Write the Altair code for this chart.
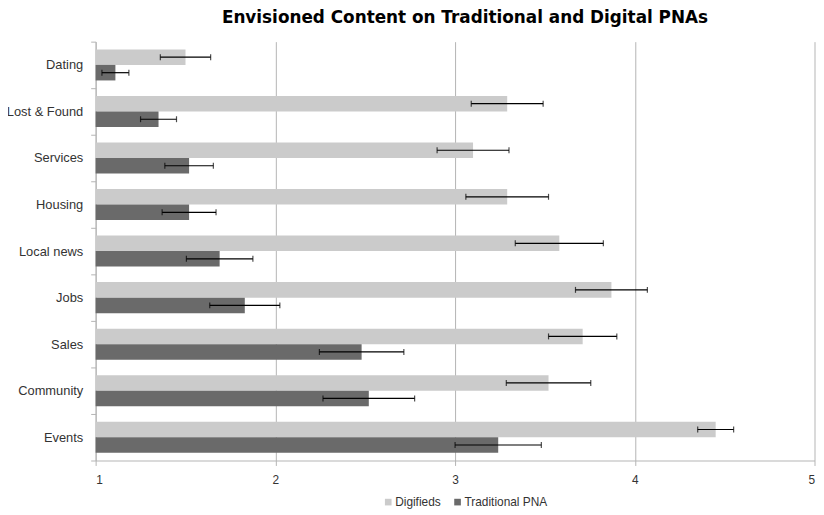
import altair as alt
import pandas as pd

categories = ["Dating", "Lost & Found", "Services", "Housing", "Local news",
              "Jobs", "Sales", "Community", "Events"]
series = ["Digifieds", "Traditional PNA"]
digifieds = [1.50, 3.29, 3.10, 3.29, 3.58, 3.87, 3.71, 3.52, 4.45]
digifieds_err = [0.14, 0.20, 0.20, 0.23, 0.245, 0.20, 0.19, 0.235, 0.10]
traditional = [1.11, 1.35, 1.52, 1.52, 1.69, 1.83, 2.48, 2.52, 3.24]
traditional_err = [0.075, 0.10, 0.135, 0.15, 0.185, 0.195, 0.235, 0.255, 0.24]
x_ticks = [1, 2, 3, 4, 5]
colors = ["#cbcbcb", "#6a6a6a"]

rows = []
for i, c in enumerate(categories):
    rows.append({"category": c, "series": series[0], "value": digifieds[i], "err": digifieds_err[i]})
    rows.append({"category": c, "series": series[1], "value": traditional[i], "err": traditional_err[i]})
df = pd.DataFrame(rows)

FONT = "Liberation Sans"
GRAY = "#b4b4b4"

x_scale = alt.Scale(domain=[1, 5], nice=False, zero=False)
y_enc = alt.Y(
    "category:N", sort=categories,
    scale=alt.Scale(paddingInner=0, paddingOuter=0),
    axis=alt.Axis(title=None, tickBand="extent", tickSize=5, tickColor=GRAY,
                  domainColor=GRAY, labelFontSize=13, labelColor="#333333",
                  labelFont=FONT, labelPadding=8, grid=False),
)
yoff_enc = alt.YOffset("series:N", sort=series,
                       scale=alt.Scale(paddingInner=0, paddingOuter=0.5))

base = alt.Chart(df)

bars = base.mark_bar(strokeWidth=0).encode(
    x=alt.X("value:Q", scale=x_scale,
            axis=alt.Axis(title=None, values=x_ticks, grid=True, gridColor=GRAY,
                          domainColor=GRAY, tickColor=GRAY, tickSize=5,
                          labelFontSize=12, labelColor="#333333", labelFont=FONT,
                          labelPadding=9, format="d")),
    x2=alt.datum(1),
    y=y_enc,
    yOffset=yoff_enc,
    color=alt.Color("series:N", sort=series,
                    scale=alt.Scale(domain=series, range=colors),
                    legend=alt.Legend(title=None, orient="none", direction="horizontal",
                                      legendX=289.5, legendY=459, padding=0,
                                      symbolType="square", symbolSize=45,
                                      symbolStrokeWidth=0, labelFontSize=12,
                                      labelFont=FONT, labelColor="#333333",
                                      labelOffset=1, columnPadding=10)),
)

err_base = base.transform_calculate(
    lo="datum.value - datum.err", hi="datum.value + datum.err"
)

rules = err_base.mark_rule(color="black", strokeWidth=1.2).encode(
    x=alt.X("lo:Q", scale=x_scale), x2="hi:Q", y=y_enc, yOffset=yoff_enc
)
caps_lo = err_base.mark_tick(color="black", orient="vertical", size=6, thickness=1.2).encode(
    x=alt.X("lo:Q", scale=x_scale), y=y_enc, yOffset=yoff_enc
)
caps_hi = err_base.mark_tick(color="black", orient="vertical", size=6, thickness=1.2).encode(
    x=alt.X("hi:Q", scale=x_scale), y=y_enc, yOffset=yoff_enc
)

chart = alt.layer(bars, rules, caps_lo, caps_hi).properties(
    width=726, height=423,
    title=alt.TitleParams("Envisioned Content on Traditional and Digital PNAs",
                          fontSize=17, fontWeight="bold", font="DejaVu Sans", color="black",
                          anchor="middle", dx=10, offset=9),
    autosize=alt.AutoSizeParams(type="none"),
    padding={"left": 88.5, "top": 31.5, "right": 1.5, "bottom": 49},
).configure_view(stroke=None)

chart.save("out.html", embed_options={"renderer": "svg", "actions": False})
